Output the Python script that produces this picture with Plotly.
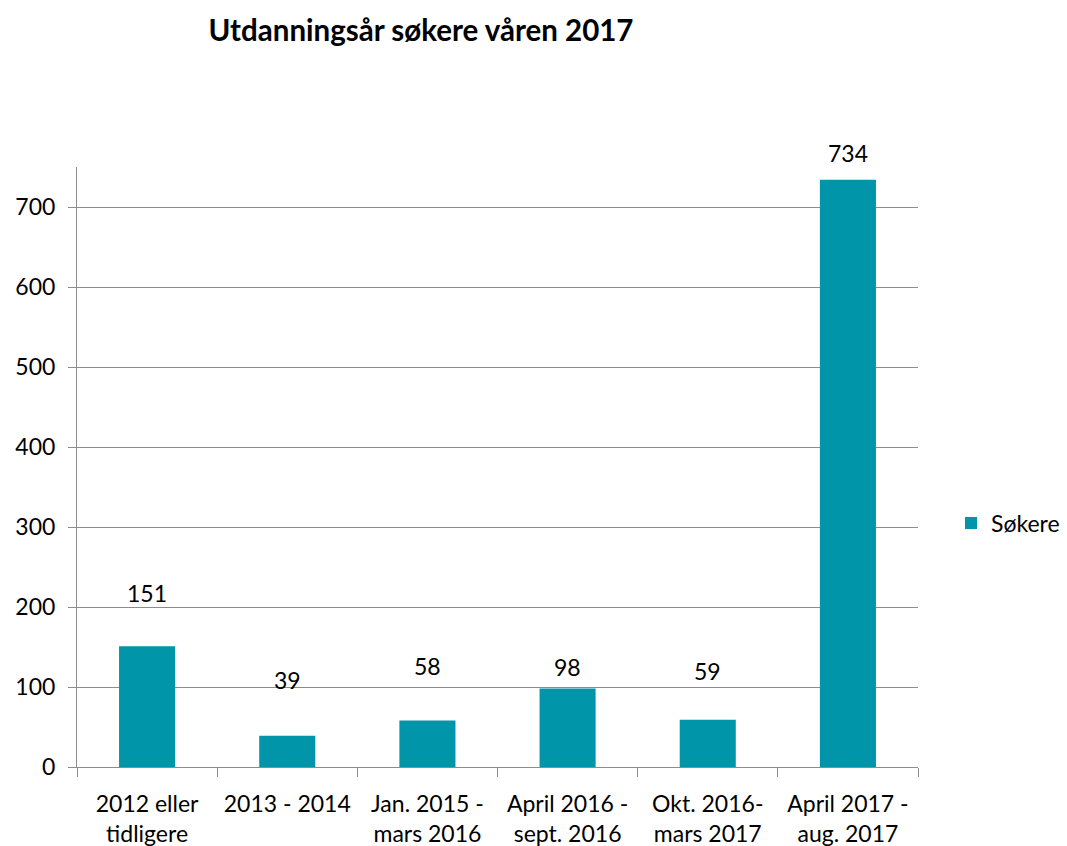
import plotly.graph_objects as go

# data
categories = [
    "2012 eller<br>tidligere",
    "2013 - 2014",
    "Jan. 2015 -<br>mars 2016",
    "April 2016 -<br>sept. 2016",
    "Okt. 2016-<br>mars 2017",
    "April 2017 -<br>aug. 2017",
]
sokere = [151, 39, 58, 98, 59, 734]
y_ticks = [0, 100, 200, 300, 400, 500, 600, 700]

# label offsets above bar tops (px), as placed in the original
label_shift = [53, 56, 55, 22, 49, 27]

BAR = "#0095A8"
GRID = "#8C8C8C"
FONT = "Lato"

# the page body adds an 8px margin, so the figure is 8px smaller
W, H = 1059, 838

fig = go.Figure()

fig.add_trace(go.Bar(
    x=categories,
    y=sokere,
    name="Søkere",
    marker=dict(color=BAR, line=dict(width=0)),
    width=0.4,
    hoverinfo="x+y",
))

# data labels
for cat, val, dy in zip(categories, sokere, label_shift):
    fig.add_annotation(
        x=cat, y=val, text=str(val), showarrow=False,
        yshift=dy, font=dict(family=FONT, size=23, color="#000000"),
    )

fig.update_layout(
    width=W, height=H,
    paper_bgcolor="white", plot_bgcolor="white",
    margin=dict(l=69, r=149, t=159, b=79),
    font=dict(family=FONT, size=23, color="#000000"),
    title=dict(
        text="<b>Utdanningsår søkere våren 2017</b>",
        x=413 / W, xanchor="center", y=1 - 23 / H, yanchor="middle",
        font=dict(family=FONT, size=29.5, color="#000000"),
    ),
    showlegend=True,
    legend=dict(
        xref="container", yref="container",
        x=943 / W, y=1 - 515 / H, xanchor="left", yanchor="middle",
        font=dict(family=FONT, size=23), bgcolor="rgba(0,0,0,0)",
        itemwidth=30, borderwidth=0,
    ),
    bargap=0.6,
)

fig.update_xaxes(
    type="category", automargin=False,
    showline=True, linecolor=GRID, linewidth=1,
    ticks="outside", tickson="boundaries", ticklen=9, tickcolor=GRID,
    showgrid=False, ticklabelstandoff=16,
    tickfont=dict(family=FONT, size=23),
)

fig.update_yaxes(
    range=[0, 750], automargin=False,
    tickvals=y_ticks,
    showline=True, linecolor=GRID, linewidth=1,
    ticks="outside", ticklen=8, tickcolor=GRID,
    showgrid=True, gridcolor=GRID, gridwidth=1,
    zeroline=False,
    ticklabelstandoff=8,
    tickfont=dict(family=FONT, size=23),
)

fig.write_html("out.html")
